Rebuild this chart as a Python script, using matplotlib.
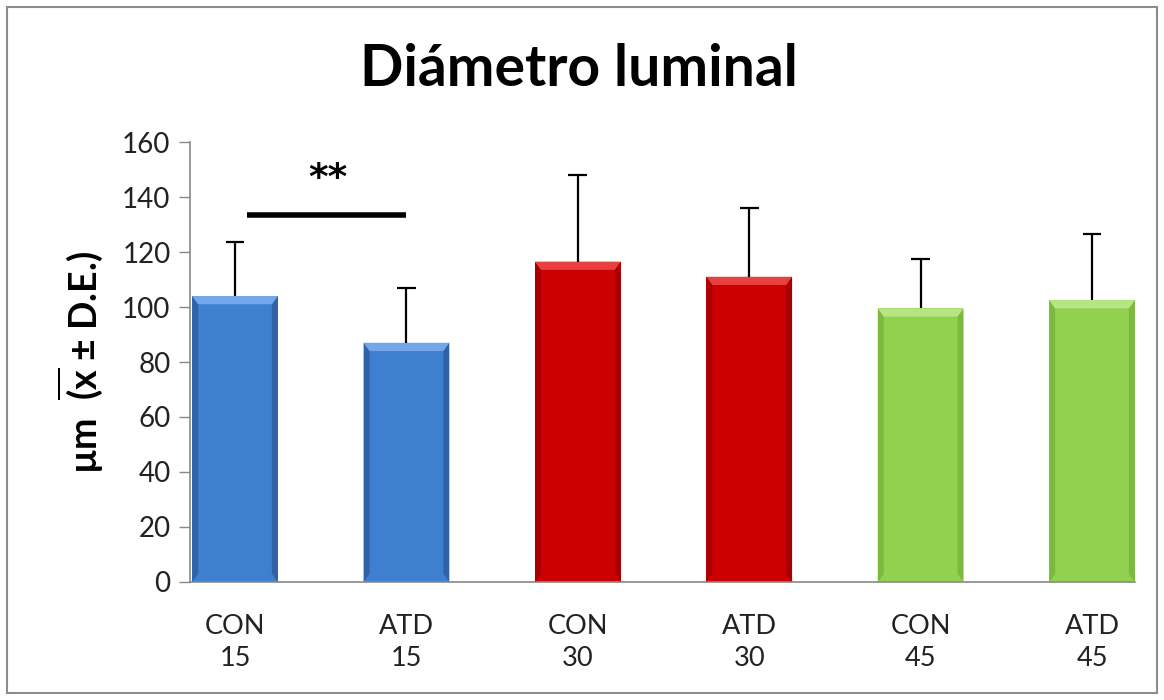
import numpy as np
import matplotlib.pyplot as plt
from matplotlib.patches import Polygon, Rectangle

# group labels, means and standard deviations
groups = ["CON\n15", "ATD\n15", "CON\n30", "ATD\n30", "CON\n45", "ATD\n45"]
means = [104, 87, 116.5, 111, 99.5, 102.5]
sds = [19.5, 20, 31.5, 25, 18, 24]
bar_colors = ["#3F7FCF", "#3F7FCF", "#CC0000", "#CC0000", "#92D050", "#92D050"]
top_colors = ["#72A8EA", "#72A8EA", "#E84040", "#E84040", "#B6E584", "#B6E584"]
side_colors = ["#2F62A6", "#2F62A6", "#A80000", "#A80000", "#7DB840", "#7DB840"]

# significance bracket between CON 15 and ATD 15
sig_pair = (0, 1)
sig_y = 133.5
sig_text = "**"

plt.rcParams['font.family'] = ['Lato', 'DejaVu Sans']
plt.rcParams['mathtext.fontset'] = 'custom'
plt.rcParams['mathtext.rm'] = 'Lato'
plt.rcParams['mathtext.bf'] = 'Lato:bold'

fig = plt.figure(figsize=(11.64, 7.0), dpi=100)
ax = fig.add_axes([0.1632, 0.1686, 0.8118, 0.6285])

x = np.arange(len(groups))
w = 0.5
ax.bar(x, means, width=w, color=bar_colors, zorder=2)

# bevel look: lighter top band, darker side strips
bx = 0.035
by = 3.0
for xi, m, tc, sc in zip(x, means, top_colors, side_colors):
    l, r = xi - w / 2, xi + w / 2
    ax.add_patch(Polygon([(l, 0), (l + bx, by), (l + bx, m - by), (l, m)],
                         closed=True, color=sc, lw=0, zorder=3))
    ax.add_patch(Polygon([(r, 0), (r - bx, by), (r - bx, m - by), (r, m)],
                         closed=True, color=sc, lw=0, zorder=3))
    ax.add_patch(Polygon([(l, m), (r, m), (r - bx, m - by), (l + bx, m - by)],
                         closed=True, color=tc, lw=0, zorder=3))

# upper error bars only
tops = np.array(means) + np.array(sds)
ax.vlines(x, means, tops, color='black', lw=1.6, zorder=4)
ax.hlines(tops, x - 0.055, x + 0.055, color='black', lw=1.6, zorder=4)

# significance line and stars
ax.plot([sig_pair[0] + 0.07, sig_pair[1] - 0.0], [sig_y, sig_y],
        color='black', lw=4, solid_capstyle='butt', zorder=4)
ax.text((sig_pair[0] + sig_pair[1]) / 2 + 0.04, sig_y + 13, sig_text,
        ha='center', va='center', fontsize=27, fontweight='bold',
        family='DejaVu Sans')

ax.set_xlim(-0.263, 5.25)
ax.set_ylim(0, 160)
ax.set_yticks(np.arange(0, 161, 20))
ax.set_xticks(x)
ax.set_xticklabels(groups, fontsize=19.5, color='#222222', linespacing=1.35)
ax.tick_params(axis='x', length=0, pad=23)
ax.tick_params(axis='y', length=8, width=1, color='#898989', pad=6,
               labelsize=20, labelcolor='#222222')

for s in ['top', 'right']:
    ax.spines[s].set_visible(False)
for s in ['left', 'bottom']:
    ax.spines[s].set_color('#898989')
    ax.spines[s].set_linewidth(1.2)

ax.set_ylabel(r"µm  $\mathbf{\overline{(x}}$ ± D.E.)", fontsize=27,
              fontweight='bold', labelpad=12)

fig.text(0.497, 0.9, "Diámetro luminal", ha='center', va='center',
         fontsize=41, fontweight='bold')

# outer chart border
fig.patches.append(Rectangle((0.006, 0.01), 0.988, 0.98, transform=fig.transFigure,
                             fill=False, edgecolor='#8c8c8c', lw=1.5))

fig.savefig("out.png", dpi=100)
